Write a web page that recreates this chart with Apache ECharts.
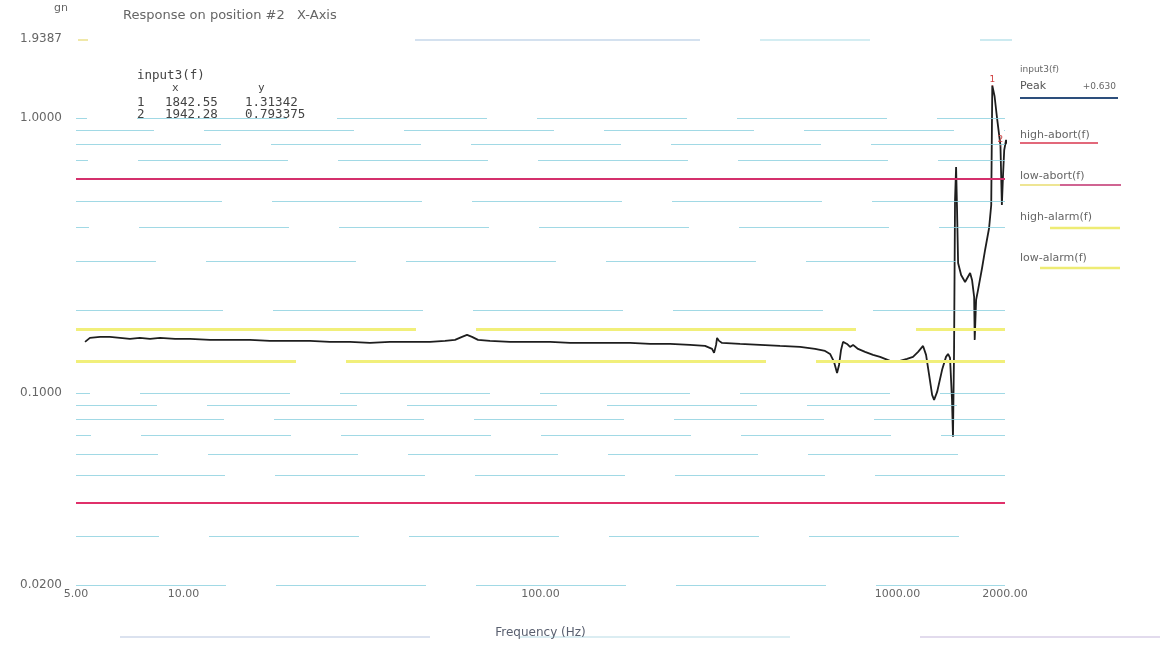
<!DOCTYPE html>
<html>
<head>
<meta charset="utf-8">
<script src="https://cdn.jsdelivr.net/npm/echarts@6/dist/echarts.min.js"></script>
<style>
html,body{margin:0;padding:0;background:#fff;}
#chart{width:1164px;height:650px;}
</style>
</head>
<body>
<div id="chart"></div>
<script>
// ---- data ----
var freqHz = [5.30, 5.47, 5.84, 6.22, 6.64, 7.08, 7.55, 8.06, 8.60, 9.47, 10.43, 11.87, 13.50, 15.35, 17.46, 19.87, 22.60, 25.70, 29.27, 33.30, 37.88, 43.10, 49.04, 54.02, 57.62, 60.28, 62.26, 64.30, 66.83, 72.19, 82.15, 93.48, 106.4, 121.0, 137.7, 156.6, 178.2, 202.8, 230.6, 262.3, 289.0, 302.4, 306.3, 310.3, 312.3, 316.3, 322.5, 362.2, 412.0, 468.7, 533.3, 587.5, 626.6, 647.2, 664.1, 677.1, 685.8, 694.7, 703.7, 722.1, 736.2, 750.6, 775.2, 811.0, 854.0, 893.4, 922.7, 953.0, 984.2, 1016, 1063, 1105, 1142, 1179, 1202, 1226, 1250, 1266, 1291, 1333, 1367, 1385, 1403, 1421, 1430, 1440, 1449, 1459, 1468, 1478, 1507, 1546, 1597, 1617, 1639, 1645, 1660, 1681, 1725, 1759, 1805, 1830, 1842.55, 1870, 1900, 1942.28, 1960, 1975, 1990, 2014, 2040, 2067, 2107];
var input3 = [0.1533, 0.1585, 0.1598, 0.1598, 0.1585, 0.1572, 0.1585, 0.1572, 0.1585, 0.1572, 0.1572, 0.1559, 0.1559, 0.1559, 0.1546, 0.1546, 0.1546, 0.1533, 0.1533, 0.1520, 0.1533, 0.1533, 0.1533, 0.1546, 0.1559, 0.1598, 0.1625, 0.1598, 0.1559, 0.1546, 0.1533, 0.1533, 0.1533, 0.1520, 0.1520, 0.1520, 0.1520, 0.1507, 0.1507, 0.1495, 0.1482, 0.1445, 0.1398, 0.1495, 0.1585, 0.1546, 0.1520, 0.1507, 0.1495, 0.1482, 0.1470, 0.1445, 0.1421, 0.1386, 0.1296, 0.1182, 0.1264, 0.1433, 0.1533, 0.1507, 0.1470, 0.1495, 0.1445, 0.1410, 0.1375, 0.1352, 0.1330, 0.1307, 0.1296, 0.1307, 0.1330, 0.1352, 0.1410, 0.1482, 0.1375, 0.1162, 0.0983, 0.0943, 0.1008, 0.1213, 0.1352, 0.1386, 0.1341, 0.0943, 0.0692, 0.1433, 0.5030, 0.6636, 0.4628, 0.2970, 0.2686, 0.2533, 0.2731, 0.2575, 0.2234, 0.1559, 0.2179, 0.2369, 0.2847, 0.3311, 0.3981, 0.4827, 1.31342, 1.20, 1.00, 0.793375, 0.4827, 0.6206, 0.7648, 0.8318, 0.8180, 0.7648, 0.7335];

var xTickLabels = ['5.00', '10.00', '100.00', '1000.00', '2000.00'];
var yTickLabels = ['0.0200', '0.1000', '1.0000', '1.9387'];
var xMin = 5, xMax = 2000, yMin = 0.02, yMax = 1.9387;

var gridValues = [0.02, 0.03, 0.04, 0.05, 0.06, 0.07, 0.08, 0.09, 0.1, 0.2, 0.3, 0.4, 0.5, 0.6, 0.7, 0.8, 0.9, 1.0];
var highAbort = 0.60, lowAbort = 0.038, highAlarm = 0.17, lowAlarm = 0.133;

var markerNames = ['1', '2'];
var markerX = [1842.55, 1942.28];
var markerY = [1.31342, 0.793375];
var markerXText = ['1842.55', '1942.28'];
var markerYText = ['1.31342', '0.793375'];
var peakText = '+0.630';

// ---- build ----
var lineData = freqHz.map(function (f, i) { return [f, input3[i]]; });

var gridLines = gridValues.map(function (v, i) {
  return { yAxis: v, lineStyle: { color: '#8ad0de', width: 1.2, type: [150, 50], dashOffset: (i * 67) % 200, opacity: 0.8 } };
});
var thresholdLines = [
  { yAxis: highAbort, lineStyle: { color: '#d4306c', width: 1.8, type: 'solid' } },
  { yAxis: lowAbort, lineStyle: { color: '#e0306a', width: 2, type: 'solid' } },
  { yAxis: highAlarm, lineStyle: { color: '#f1ef7a', width: 3, type: [380, 60], dashOffset: 40 } },
  { yAxis: lowAlarm, lineStyle: { color: '#f1ef7a', width: 3, type: [420, 50], dashOffset: 200 } }
];

var monoFont = '"DejaVu Sans Mono", "Liberation Mono", monospace';
var sansFont = '"DejaVu Sans", "Liberation Sans", sans-serif';
var txtColor = '#666';

function t(x, y, s, opts) {
  opts = opts || {};
  return {
    type: 'text', x: x, y: y, silent: true,
    style: {
      text: s, fill: opts.color || txtColor, font: (opts.size || 11) + 'px ' + (opts.family || sansFont),
      textAlign: opts.align || 'left', textVerticalAlign: 'middle'
    }
  };
}
function l(x1, y1, x2, y2, color, w) {
  return { type: 'line', silent: true, shape: { x1: x1, y1: y1, x2: x2, y2: y2 }, style: { stroke: color, lineWidth: w || 1.5 } };
}

var mono = { family: monoFont, size: 12.5, color: '#444' };
var graphics = [
  t(61, 8, 'gn', { size: 11, align: 'center' }),
  t(123, 16, 'Response on position #2   X-Axis', { size: 13 }),
  // marker table
  t(137, 76, 'input3(f)', mono),
  t(172, 88, 'x', { family: monoFont, size: 11, color: '#444' }),
  t(258, 88, 'y', { family: monoFont, size: 11, color: '#444' }),
  t(137, 103, markerNames[0], mono),
  t(165, 103, markerXText[0], mono),
  t(245, 103, markerYText[0], mono),
  t(137, 115, markerNames[1], mono),
  t(165, 115, markerXText[1], mono),
  t(245, 115, markerYText[1], mono),
  // right legend
  t(1020, 70, 'input3(f)', { size: 9 }),
  t(1020, 86, 'Peak', { size: 11, color: '#555' }),
  t(1116, 87, peakText, { size: 9, align: 'right' }),
  l(1020, 98, 1118, 98, '#2d4f7c', 2),
  t(1020, 135, 'high-abort(f)', { size: 11 }),
  l(1020, 143, 1098, 143, '#d8364e', 1.6),
  t(1020, 176, 'low-abort(f)', { size: 11 }),
  l(1020, 185, 1060, 185, '#e8dc70', 1.6),
  l(1060, 185, 1121, 185, '#c0306e', 1.6),
  t(1020, 217, 'high-alarm(f)', { size: 11 }),
  l(1050, 228, 1120, 228, '#eeec74', 2.5),
  t(1020, 258, 'low-alarm(f)', { size: 11 }),
  l(1040, 268, 1120, 268, '#eeec74', 2.5),
  // faint streaks near the top and below the axis title
  l(78, 40, 88, 40, '#e6d870', 1.2),
  l(415, 40, 700, 40, '#a9c4e0', 1.2),
  l(760, 40, 870, 40, '#a9dce6', 1.2),
  l(980, 40, 1012, 40, '#a9dce6', 1.2),
  l(120, 637, 430, 637, '#b8c6e0', 1.2),
  l(520, 637, 790, 637, '#b8dce6', 1.2),
  l(920, 637, 1160, 637, '#c6b8dc', 1.2)
];

var chart = echarts.init(document.getElementById('chart'), null, { renderer: 'canvas' });
chart.setOption({
  backgroundColor: '#fff',
  animation: false,
  grid: { left: 76, right: 159, top: 39, bottom: 65, containLabel: false, outerBoundsMode: 'none' },
  xAxis: {
    type: 'log', logBase: 10, min: xMin, max: xMax,
    axisLine: { show: false }, axisTick: { show: false }, splitLine: { show: false },
    axisLabel: {
      showMinLabel: true, showMaxLabel: true, margin: 4,
      color: '#666', fontSize: 11, fontFamily: sansFont,
      formatter: function (v) {
        var s = Number(v).toFixed(2);
        return xTickLabels.indexOf(s) >= 0 ? s : '';
      }
    },
    name: 'Frequency (Hz)', nameLocation: 'middle', nameGap: 42,
    nameTextStyle: { color: '#5a6070', fontSize: 12, fontFamily: sansFont }
  },
  yAxis: {
    type: 'log', logBase: 10, min: yMin, max: yMax,
    axisLine: { show: false }, axisTick: { show: false }, splitLine: { show: false },
    axisLabel: {
      showMinLabel: true, showMaxLabel: true, margin: 14,
      color: '#666', fontSize: 12, fontFamily: sansFont,
      formatter: function (v) {
        var s = Number(v).toFixed(4);
        return yTickLabels.indexOf(s) >= 0 ? s : '';
      }
    }
  },
  series: [
    {
      name: 'grid', type: 'line', data: [], silent: true,
      markLine: { silent: true, symbol: 'none', label: { show: false }, data: gridLines, animation: false }
    },
    {
      name: 'thresholds', type: 'line', data: [], silent: true,
      markLine: { silent: true, symbol: 'none', label: { show: false }, data: thresholdLines, animation: false }
    },
    {
      name: 'input3(f)', type: 'line', data: lineData, showSymbol: false, clip: false,
      lineStyle: { color: '#1e1e1e', width: 1.8 },
      markPoint: {
        symbol: 'circle', symbolSize: 1,
        itemStyle: { color: '#d04040' },
        label: { show: true, position: 'top', distance: 1, color: '#d04040', fontSize: 9, fontFamily: sansFont, formatter: '{b}' },
        data: markerNames.map(function (n, i) { return { name: n, coord: [markerX[i], markerY[i]] }; })
      }
    }
  ],
  graphic: graphics
});
</script>
</body>
</html>
